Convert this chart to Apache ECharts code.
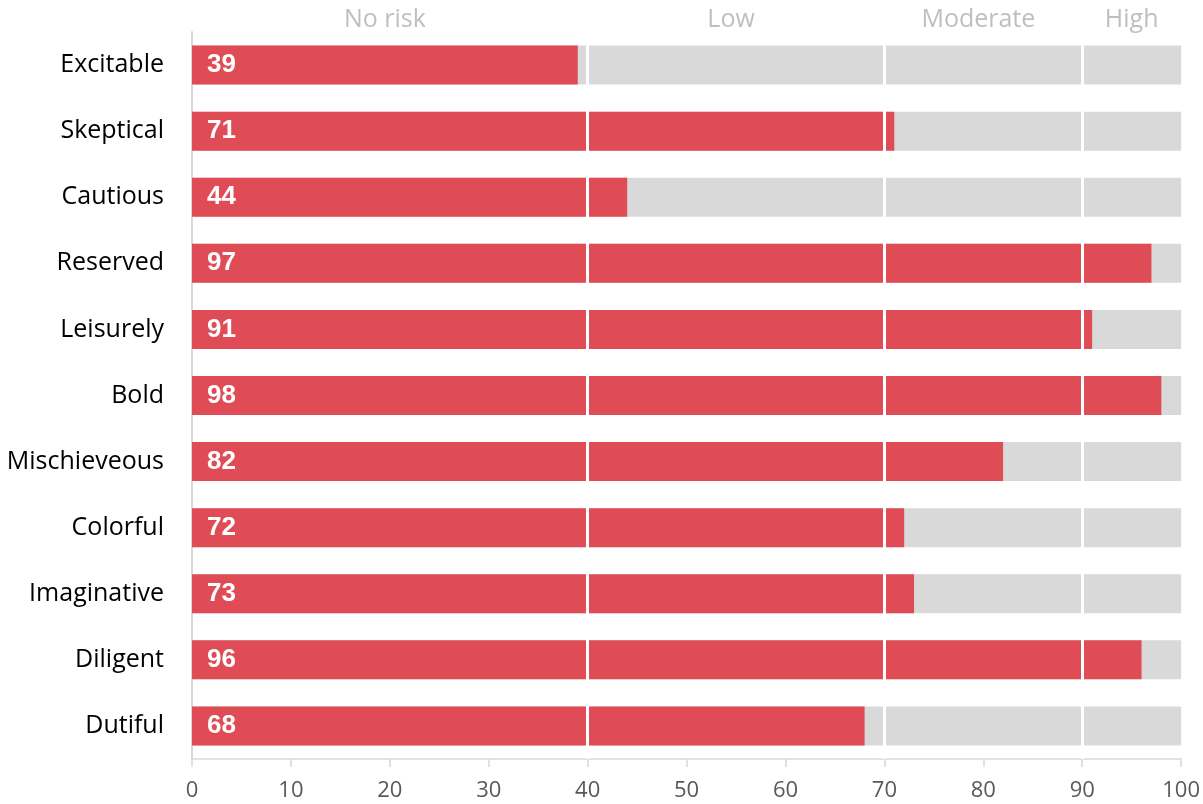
<!DOCTYPE html>
<html>
<head>
<meta charset="utf-8">
<script src="https://cdn.jsdelivr.net/npm/echarts@6/dist/echarts.min.js"></script>
<style>html,body{margin:0;padding:0;background:#fff;}#c{width:1203px;height:804px;}</style>
</head>
<body>
<div id="c"></div>
<script>
const categories = ['Excitable','Skeptical','Cautious','Reserved','Leisurely','Bold','Mischieveous','Colorful','Imaginative','Diligent','Dutiful'];
const scores = [39, 71, 44, 97, 91, 98, 82, 72, 73, 96, 68];
const fullScale = [100, 100, 100, 100, 100, 100, 100, 100, 100, 100, 100];
const bandBreaks = [40, 70, 90];
const bandLabels = {19.5: 'No risk', 54.5: 'Low', 79.5: 'Moderate', 95: 'High'};

const chart = echarts.init(document.getElementById('c'));
chart.setOption({
  animation: false,
  grid: {left: 192, right: 21, top: 32, bottom: 45},
  xAxis: [{
    type: 'value', min: 0, max: 100, interval: 10, position: 'bottom',
    axisLine: {show: true, lineStyle: {color: '#d9d9d9', width: 1.5}},
    axisTick: {show: true, length: 8, lineStyle: {color: '#d9d9d9', width: 1.5}},
    splitLine: {show: false},
    axisLabel: {color: '#595959', fontSize: 22, fontFamily: 'Open Sans', margin: 21}
  }, {
    type: 'value', min: 0, max: 100, interval: 0.5, position: 'top',
    axisLine: {show: false}, axisTick: {show: false}, splitLine: {show: false},
    axisLabel: {color: '#bfbfbf', fontSize: 25, fontFamily: 'Open Sans', margin: 0,
      formatter: v => bandLabels[v] || ''}
  }],
  yAxis: {
    type: 'category', data: categories, inverse: true,
    axisLine: {show: true, lineStyle: {color: '#d9d9d9', width: 2}},
    axisTick: {show: false},
    axisLabel: {color: '#000', fontSize: 25, fontFamily: 'Open Sans', margin: 28}
  },
  series: [{
    type: 'bar', data: fullScale, barWidth: 39, barGap: '-100%', silent: true,
    itemStyle: {color: '#d9d9d9'}, z: 1
  }, {
    type: 'bar', data: scores, barWidth: 39, silent: true,
    itemStyle: {color: '#e04c55'}, z: 2,
    label: {show: true, position: 'insideLeft', distance: 15, color: '#fff', fontSize: 26,
      fontWeight: 'bold', fontFamily: 'Liberation Sans'},
    markLine: {
      silent: true, symbol: 'none', label: {show: false},
      lineStyle: {color: '#fff', width: 3, type: 'solid'},
      data: bandBreaks.map(v => ({xAxis: v}))
    }
  }]
});
</script>
</body>
</html>
